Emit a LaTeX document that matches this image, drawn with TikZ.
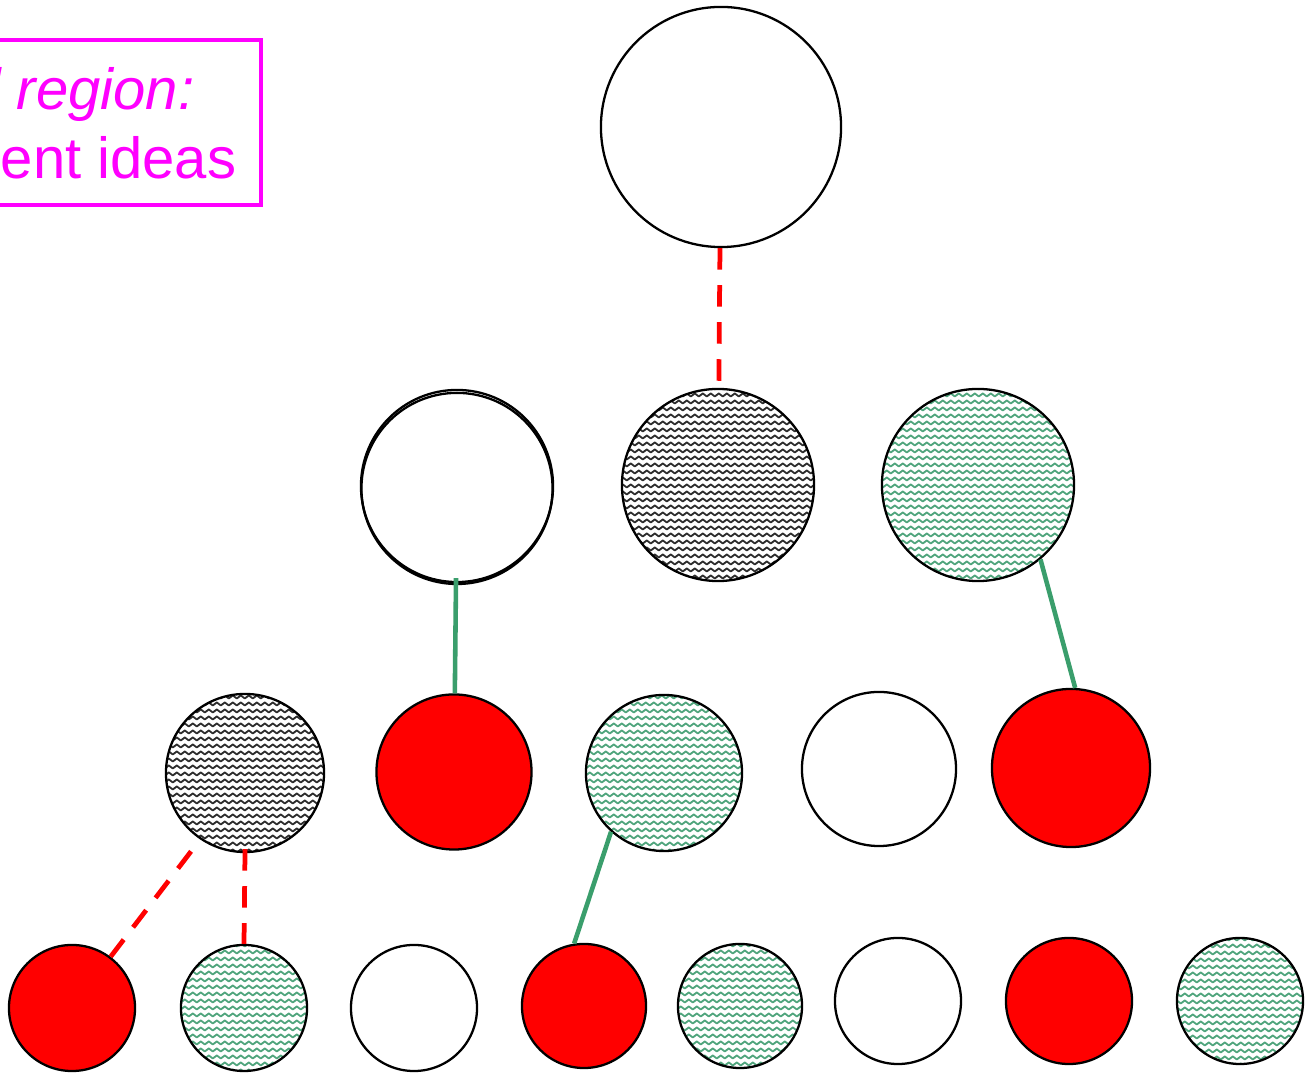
\documentclass[tikz,border=0pt]{standalone}
\usepackage{fontspec}
\setmainfont{Liberation Sans}
\usetikzlibrary{patterns}
\definecolor{boxpink}{rgb}{1,0,1}
\definecolor{edgegreen}{RGB}{58,158,108}
\definecolor{wavegreen}{RGB}{80,165,125}
\definecolor{wavegrey}{RGB}{45,45,45}

\pgfdeclarepatternformonly{waves}{\pgfpoint{0pt}{0pt}}{\pgfpoint{2.35pt}{1.9pt}}{\pgfpoint{2.35pt}{1.9pt}}{
\pgfsetlinewidth{0.55pt}
\pgfsetroundjoin
\pgfpathmoveto{\pgfpoint{-0.2pt}{0.5pt}}
\pgfpathlineto{\pgfpoint{0pt}{0.5pt}}
\pgfpathlineto{\pgfpoint{1.175pt}{1.35pt}}
\pgfpathlineto{\pgfpoint{2.35pt}{0.5pt}}
\pgfpathlineto{\pgfpoint{2.55pt}{0.5pt}}
\pgfusepath{stroke}
}

\begin{document}
\begin{tikzpicture}[x=0.01cm, y=-0.01cm,
  ball/.style={circle, draw, line width=0.65pt, inner sep=0pt},
  plainball/.style={ball, fill=white},
  redball/.style={ball, fill=red},
  greyball/.style={ball, pattern=waves, pattern color=wavegrey},
  greenball/.style={ball, pattern=waves, pattern color=wavegreen},
  redlink/.style={red, line width=1.35pt, dash pattern=on 0.215cm off 0.155cm},
  greenlink/.style={edgegreen, line width=1.3pt}]
\useasboundingbox (0,0) rectangle (1305,1074);

\begin{scope}
\clip (0,0) rectangle (1305,1074);
\draw[boxpink, line width=1.15pt] (-40,40) rectangle (261,205);
\node(line1)[boxpink, anchor=base east, inner sep=0pt, font=\fontsize{16.5pt}{20pt}\selectfont\itshape] at (195,110) {d region:};
\node(line2)[boxpink, anchor=base east, inner sep=0pt, font=\fontsize{16.5pt}{20pt}\selectfont] at (237,179) {ent ideas};
\end{scope}

\node(top)[plainball, minimum size=2.4cm] at (721,127) {};

\node(mA)[plainball, minimum size=1.92cm] at (457,486) {};
\draw[line width=0.65pt] ([yshift=-0.7pt]mA.center) circle (0.955cm);
\node(mB)[greyball, minimum size=1.92cm] at (718,485) {};
\node(mC)[greenball, minimum size=1.92cm] at (978,485) {};

\node(lD)[greyball, minimum size=1.58cm] at (245,773) {};
\node(lE)[redball, minimum size=1.55cm] at (454,772) {};
\node(lF)[greenball, minimum size=1.56cm] at (664,773) {};
\node(lG)[plainball, minimum size=1.54cm] at (879,769) {};
\node(lH)[redball, minimum size=1.58cm] at (1071,768) {};

\node(b1)[redball, minimum size=1.26cm] at (72,1008) {};
\node(b2)[greenball, minimum size=1.26cm] at (244,1008) {};
\node(b3)[plainball, minimum size=1.26cm] at (414,1008) {};
\node(b4)[redball, minimum size=1.24cm] at (584,1006) {};
\node(b5)[greenball, minimum size=1.24cm] at (740,1006) {};
\node(b6)[plainball, minimum size=1.26cm] at (898,1001) {};
\node(b7)[redball, minimum size=1.26cm] at (1069,1001) {};
\node(b8)[greenball, minimum size=1.26cm] at (1240,1001) {};

\draw[redlink, shorten >=0.07cm] (top) -- (mB);
\draw[greenlink, shorten <=-0.05cm] (mA) -- (lE);
\draw[greenlink] (mC.-50) -- (lH.87);
\draw[redlink] (b1.53) -- (lD.-124);
\draw[redlink, shorten <=-0.04cm] (lD.south) -- (b2.north);
\draw[greenlink] (lF.-132) -- (b4.99);
\end{tikzpicture}
\end{document}
